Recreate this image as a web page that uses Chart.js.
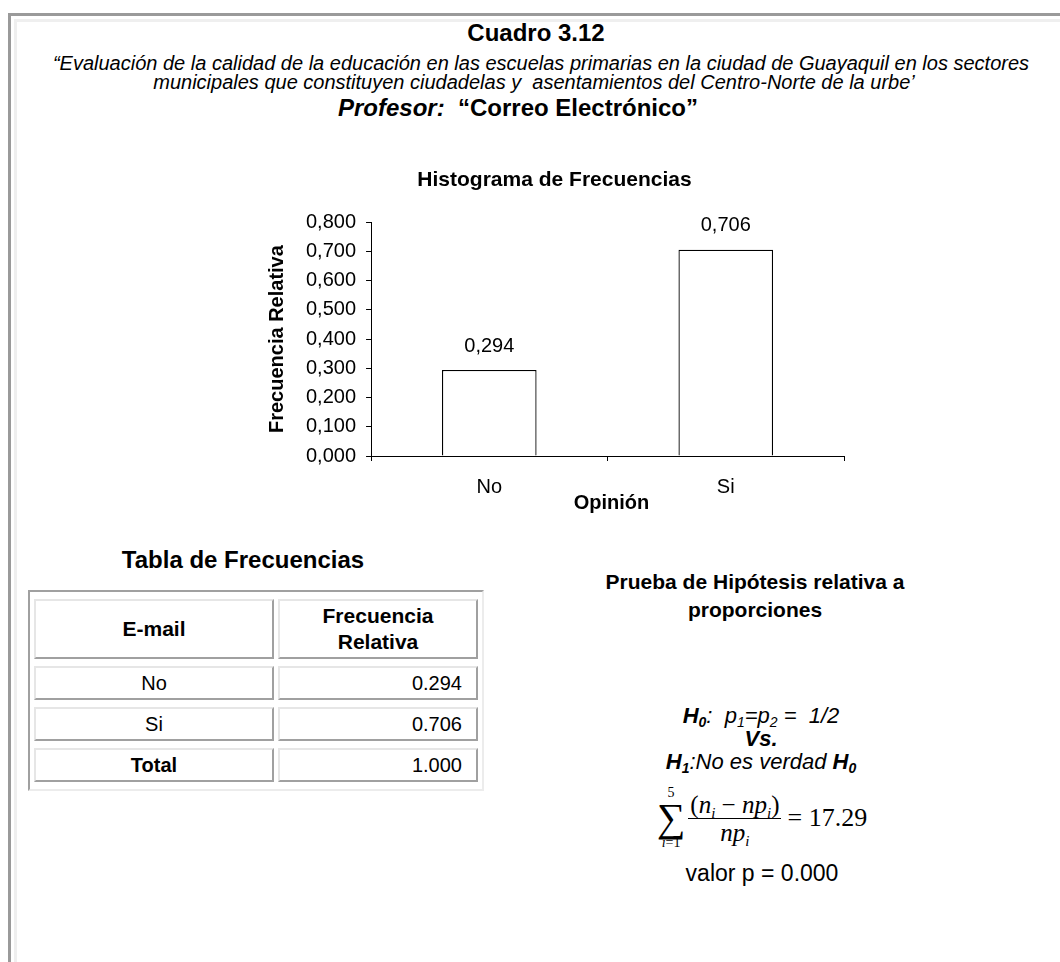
<!DOCTYPE html>
<html lang="es">
<head>
<meta charset="utf-8">
<title>Cuadro 3.12</title>
<script src="https://cdn.jsdelivr.net/npm/chart.js@4.4.1/dist/chart.umd.min.js"></script>
<style>
  body { margin: 0; width: 1060px; height: 962px; overflow: hidden; position: relative; background: #fff;
         font-family: Arial, "Liberation Sans", sans-serif; color: #000; }
  .frame { position: absolute; left: 8px; top: 13px; width: 1100px; height: 1000px; border: 3px solid #9a9a9a; }
  .frame-in { position: absolute; left: 14px; top: 19px; width: 1100px; height: 1000px; border: 3px solid #efefef; }
  .linea { position: absolute; text-align: center; white-space: nowrap; }
  #grafico { position: absolute; left: 250px; top: 150px; width: 600px; height: 380px; }
  #tabla { position: absolute; left: 28px; top: 590px; width: 456px; border-collapse: separate; border-spacing: 4px 7px;
           border: 2px solid; border-color: #a0a0a0 #ececec #ececec #a0a0a0; font-size: 20px; }
  #tabla th, #tabla td { border: 2px solid; border-color: #e6e6e6 #a0a0a0 #a0a0a0 #e6e6e6; padding: 0 14px; height: 30px; line-height: 22px; }
  #tabla th { height: 56px; font-weight: bold; font-size: 21px; line-height: 26px; }
  #tabla td.cat { text-align: center; }
  #tabla td.val { text-align: right; }
  .hip { font-style: italic; font-size: 22px; line-height: 23px; }
  .hip sub { font-size: 14px; line-height: 0; vertical-align: -4px; }
  .formula { position: absolute; left: 612px; top: 786px; width: 300px; display: flex; justify-content: center; align-items: center;
             font-family: "Times New Roman", "Liberation Serif", serif; font-size: 25px; }
  .sigma { display: flex; flex-direction: column; align-items: center; line-height: 1; margin-right: 3px; }
  .sigma .lim { font-size: 14px; line-height: 14px; }
  .sigma .sig { font-size: 40px; line-height: 36px; }
  .frac { display: flex; flex-direction: column; align-items: center; }
  .frac span { padding: 0 2px; line-height: 27px; }
  .frac .num { border-bottom: 1px solid #000; }
  .formula sub { font-size: 15px; line-height: 0; vertical-align: -5px; }
  .eq { margin-left: 6px; font-size: 26px; }
</style>
</head>
<body>
<div class="frame"></div>
<div class="frame-in"></div>

<div class="linea" style="left:0;width:1072px;top:19px;font-size:24px;line-height:28px;font-weight:bold;">Cuadro 3.12</div>
<div class="linea" style="left:0;width:1082px;top:52px;font-size:20px;line-height:22px;font-style:italic;">“Evaluación de la calidad de la educación en las escuelas primarias en la ciudad de Guayaquil en los sectores</div>
<div class="linea" style="left:0;width:1068px;top:71px;font-size:20px;line-height:22px;font-style:italic;">municipales que constituyen ciudadelas y &nbsp;asentamientos del Centro-Norte de la urbe’</div>
<div class="linea" style="left:0;width:1036px;top:94px;font-size:24px;line-height:28px;font-weight:bold;"><i>Profesor:</i>&nbsp; “Correo Electrónico”</div>

<div id="grafico"><canvas id="hist"></canvas></div>

<div class="linea" style="left:28px;width:430px;top:545px;font-size:24px;line-height:30px;font-weight:bold;">Tabla de Frecuencias</div>
<table id="tabla">
  <thead><tr><th style="width:208px;">E-mail</th><th>Frecuencia<br>Relativa</th></tr></thead>
  <tbody id="cuerpo"></tbody>
</table>

<div class="linea" style="left:605px;width:300px;top:568px;font-size:21px;line-height:28px;font-weight:bold;">Prueba de Hipótesis relativa a<br>proporciones</div>
<div class="linea hip" style="left:611px;width:300px;top:704px;"><b>H<sub>0</sub></b>:&nbsp; p<sub>1</sub>=p<sub>2</sub> = &nbsp;1/2</div>
<div class="linea hip" style="left:611px;width:300px;top:727px;"><b>Vs.</b></div>
<div class="linea hip" style="left:611px;width:300px;top:750px;"><b>H<sub>1</sub></b>:No es verdad <b>H<sub>0</sub></b></div>
<div class="formula">
  <span class="sigma"><span class="lim">5</span><span class="sig">∑</span><span class="lim"><i>i</i>=1</span></span>
  <span class="frac"><span class="num">(<i>n</i><sub><i>i</i></sub> − <i>np</i><sub><i>i</i></sub>)</span><span class="den"><i>np</i><sub><i>i</i></sub></span></span>
  <span class="eq">= 17.29</span>
</div>
<div class="linea" style="left:612px;width:300px;top:860px;font-size:23px;line-height:26px;">valor p = 0.000</div>

<script>
// datos
const categorias = ['No', 'Si'];
const frecuencias = [0.294, 0.706];
const total = 1.000;
const ejeMin = 0;
const ejeMax = 0.8;
const ejePaso = 0.1;

const fuente = 'Arial, "Liberation Sans", sans-serif';

function formato(v) {
    return v.toFixed(3).replace('.', ',');
}

// tabla de frecuencias
const cuerpo = document.getElementById('cuerpo');
categorias.forEach((cat, i) => {
    const fila = document.createElement('tr');
    fila.innerHTML = '<td class="cat">' + cat + '</td><td class="val">' + frecuencias[i].toFixed(3) + '</td>';
    cuerpo.appendChild(fila);
});
const filaTotal = document.createElement('tr');
filaTotal.innerHTML = '<td class="cat"><b>Total</b></td><td class="val">' + total.toFixed(3) + '</td>';
cuerpo.appendChild(filaTotal);

// etiquetas encima de las barras y titulo del eje x
const etiquetas = {
    id: 'etiquetas',
    afterDatasetsDraw(chart) {
        const ctx = chart.ctx;
        const meta = chart.getDatasetMeta(0);
        ctx.save();
        ctx.font = '20px ' + fuente;
        ctx.fillStyle = '#000';
        ctx.textAlign = 'center';
        ctx.textBaseline = 'middle';
        meta.data.forEach((barra, i) => {
            ctx.fillText(formato(frecuencias[i]), barra.x, barra.y - 24);
        });
        const area = chart.chartArea;
        ctx.font = 'bold 20px ' + fuente;
        ctx.fillText('Opinión', (area.left + area.right) / 2 + 4, area.bottom + 47);
        ctx.restore();
    }
};

Chart.defaults.font.family = fuente;
Chart.defaults.color = '#000';

new Chart(document.getElementById('hist'), {
    type: 'bar',
    data: {
        labels: categorias,
        datasets: [{
            data: frecuencias,
            backgroundColor: '#ffffff',
            borderColor: '#000000',
            borderWidth: 1.3,
            barPercentage: 0.4,
            categoryPercentage: 1
        }]
    },
    options: {
        responsive: true,
        maintainAspectRatio: false,
        animation: false,
        layout: { padding: { left: 15, right: 6, top: 0, bottom: 17 } },
        plugins: {
            legend: { display: false },
            tooltip: { enabled: false },
            title: {
                display: true,
                text: 'Histograma de Frecuencias',
                color: '#000',
                font: { size: 21, weight: 'bold', lineHeight: 1.15 },
                padding: { top: 18, bottom: 30 }
            }
        },
        scales: {
            x: {
                grid: { display: true, offset: true, drawOnChartArea: false, drawTicks: true, tickLength: 5, color: '#000' },
                border: { display: true, color: '#000', width: 1 },
                ticks: { color: '#000', font: { size: 20, lineHeight: 1 }, padding: 16 }
            },
            y: {
                min: ejeMin,
                max: ejeMax,
                grid: { drawOnChartArea: false, drawTicks: true, tickLength: 5, color: '#000' },
                border: { display: true, color: '#000', width: 1 },
                ticks: { stepSize: ejePaso, color: '#000', font: { size: 20 }, padding: 10, callback: v => formato(v) },
                title: { display: true, text: 'Frecuencia Relativa', color: '#000', font: { size: 20, weight: 'bold', lineHeight: 1.2 }, padding: { top: 0, bottom: 7 } }
            }
        }
    },
    plugins: [etiquetas]
});
</script>
</body>
</html>
